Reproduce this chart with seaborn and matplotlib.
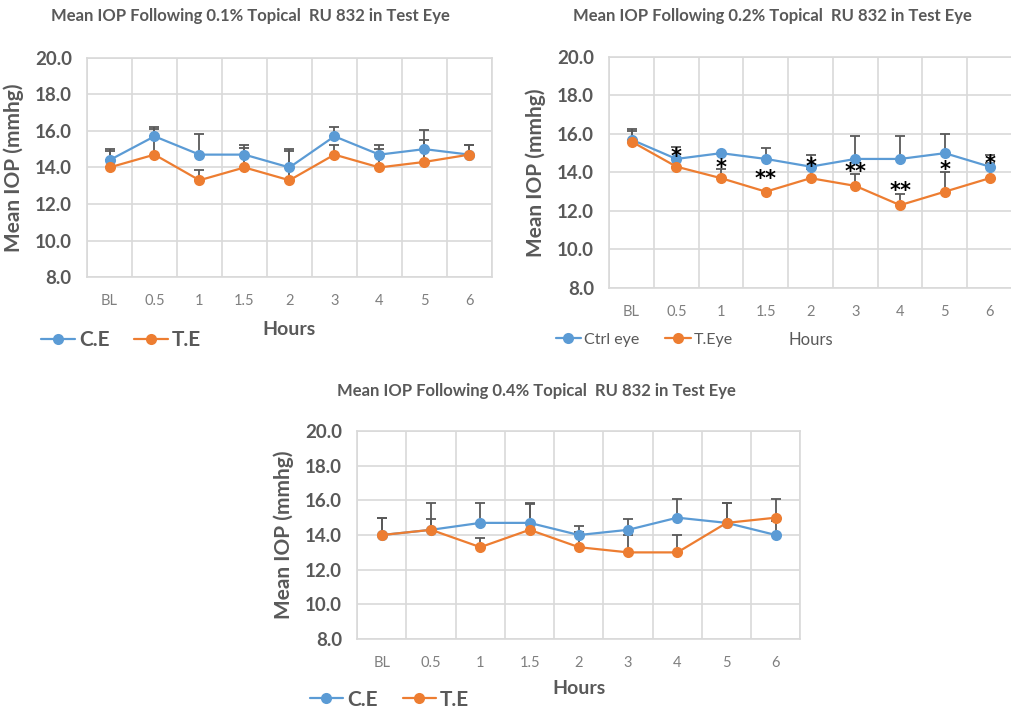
import numpy as np
import pandas as pd
import matplotlib
matplotlib.use("Agg")
import matplotlib.pyplot as plt
import seaborn as sns

hours = ["BL", "0.5", "1", "1.5", "2", "3", "4", "5", "6"]

# 0.1% dose
ce_01 = [14.4, 15.7, 14.7, 14.7, 14.0, 15.7, 14.7, 15.0, 14.7]
te_01 = [14.0, 14.7, 13.3, 14.0, 13.3, 14.7, 14.0, 14.3, 14.7]
ce_01_err = [0.6, 0.5, 1.1, 0.5, 1.0, 0.5, 0.5, 1.05, 0.5]
te_01_err = [0.9, 1.4, 0.55, 1.05, 1.6, 0.55, 1.0, 1.2, 0.5]

# 0.2% dose
ce_02 = [15.7, 14.7, 15.0, 14.7, 14.3, 14.7, 14.7, 15.0, 14.3]
te_02 = [15.6, 14.3, 13.7, 13.0, 13.7, 13.3, 12.3, 13.0, 13.7]
ce_02_err = [0.55, 0.6, 0.0, 0.55, 0.6, 1.2, 1.2, 1.0, 0.6]
te_02_err = [0.55, 0.5, 0.5, 0.0, 0.5, 0.6, 0.6, 1.0, 0.8]
stars_02 = ["", "*", "*", "**", "*", "**", "**", "*", "*"]
star_y_02 = [0, 14.8, 14.25, 13.65, 14.3, 14.0, 13.05, 14.15, 14.45]

# 0.4% dose
ce_04 = [14.0, 14.3, 14.7, 14.7, 14.0, 14.3, 15.0, 14.7, 14.0]
te_04 = [14.0, 14.3, 13.3, 14.3, 13.3, 13.0, 13.0, 14.7, 15.0]
ce_04_err = [1.0, 1.55, 1.15, 1.15, 0.5, 0.6, 1.05, 1.15, 0.8]
te_04_err = [1.0, 0.6, 0.55, 1.5, 0.9, 1.0, 1.0, 1.15, 1.05]

BLUE = "#5B9BD5"
ORANGE = "#ED7D31"
GREY = "#595959"
FONT = "Lato"

sns.set_theme(style="white")
plt.rcParams["font.family"] = [FONT, "DejaVu Sans"]

fig = plt.figure(figsize=(10.12, 7.11), dpi=100)


def panel(rect, ce, te, ce_err, te_err, names):
    ax = fig.add_axes(rect)
    pos = np.arange(len(hours))
    df = pd.DataFrame({
        "pos": np.concatenate([pos, pos]),
        "iop": ce + te,
        "eye": [names[0]] * len(hours) + [names[1]] * len(hours),
    })
    sns.lineplot(data=df, x="pos", y="iop", hue="eye", palette=[BLUE, ORANGE],
                 marker="o", markersize=8, markeredgewidth=0, linewidth=1.6,
                 ax=ax, zorder=3)
    handles, labels = ax.get_legend_handles_labels()
    ax.get_legend().remove()
    for vals, err in [(ce, ce_err), (te, te_err)]:
        ax.errorbar(pos, vals, yerr=[np.zeros(len(err)), err], fmt="none",
                    ecolor=GREY, elinewidth=1.3, capsize=3.5, capthick=1.3,
                    zorder=2)
    ax.set_xlim(-0.5, len(hours) - 0.5)
    ax.set_ylim(8, 20)
    ax.set_yticks(np.arange(8, 21, 2))
    ax.set_yticklabels([f"{v:.1f}" for v in np.arange(8, 21, 2)],
                       fontsize=13.5, fontweight="bold", color=GREY)
    ax.set_xticks(pos)
    ax.set_xticklabels(hours, fontsize=10.5, color="#7F7F7F")
    ax.set_xticks(np.arange(-0.5, len(hours), 1), minor=True)
    ax.tick_params(which="both", length=0)
    ax.tick_params(axis="y", pad=11)
    ax.tick_params(axis="x", pad=12)
    ax.grid(False)
    ax.grid(which="minor", axis="x", color="#D9D9D9", linewidth=1.2)
    ax.grid(which="major", axis="y", color="#D9D9D9", linewidth=1.2)
    for s in ax.spines.values():
        s.set_color("#D9D9D9")
        s.set_linewidth(1.2)
    ax.set_xlabel("")
    ax.set_ylabel("Mean IOP (mmhg)", fontsize=15, fontweight="bold",
                  color=GREY, labelpad=8)
    return ax, handles, labels


def legend(ax, handles, labels, x, y, size, weight, colsp):
    ax.legend(handles, labels, loc="center left", bbox_to_anchor=(x, y),
              bbox_transform=fig.transFigure, ncol=2, frameon=False,
              borderpad=0, borderaxespad=0, handlelength=1.6,
              handletextpad=0.2, columnspacing=colsp,
              prop={"size": size, "weight": weight, "family": FONT},
              labelcolor=GREY)


ax1, h, l = panel([0.086, 0.610, 0.400, 0.309], ce_01, te_01, ce_01_err, te_01_err,
                  ["C.E", "T.E"])
legend(ax1, h, l, 0.041, 0.522, 15, "bold", 1.2)
fig.text(0.247, 0.977, "Mean IOP Following 0.1% Topical  RU 832 in Test Eye",
         ha="center", va="center", fontsize=12, fontweight="bold", color=GREY)
fig.text(0.286, 0.536, "Hours", ha="center", va="center", fontsize=14,
         fontweight="bold", color=GREY)

ax2, h, l = panel([0.602, 0.595, 0.398, 0.325], ce_02, te_02, ce_02_err, te_02_err,
                  ["Ctrl eye", "T.Eye"])
legend(ax2, h, l, 0.549, 0.522, 11.5, "normal", 1.6)
for i, (s, y) in enumerate(zip(stars_02, star_y_02)):
    if s:
        ax2.text(i, y, s, ha="center", va="center", fontsize=15,
                 fontweight="bold", color="black", zorder=5,
                 family="DejaVu Sans")
fig.text(0.763, 0.977, "Mean IOP Following 0.2% Topical  RU 832 in Test Eye",
         ha="center", va="center", fontsize=12, fontweight="bold", color=GREY)
fig.text(0.801, 0.522, "Hours", ha="center", va="center", fontsize=12,
         color=GREY)

ax3, h, l = panel([0.353, 0.101, 0.438, 0.293], ce_04, te_04, ce_04_err, te_04_err,
                  ["C.E", "T.E"])
legend(ax3, h, l, 0.306, 0.016, 15, "bold", 1.2)
fig.text(0.530, 0.450, "Mean IOP Following 0.4% Topical  RU 832 in Test Eye",
         ha="center", va="center", fontsize=12, fontweight="bold", color=GREY)
fig.text(0.572, 0.031, "Hours", ha="center", va="center", fontsize=14,
         fontweight="bold", color=GREY)

fig.savefig("out.png", dpi=100, facecolor="white")
